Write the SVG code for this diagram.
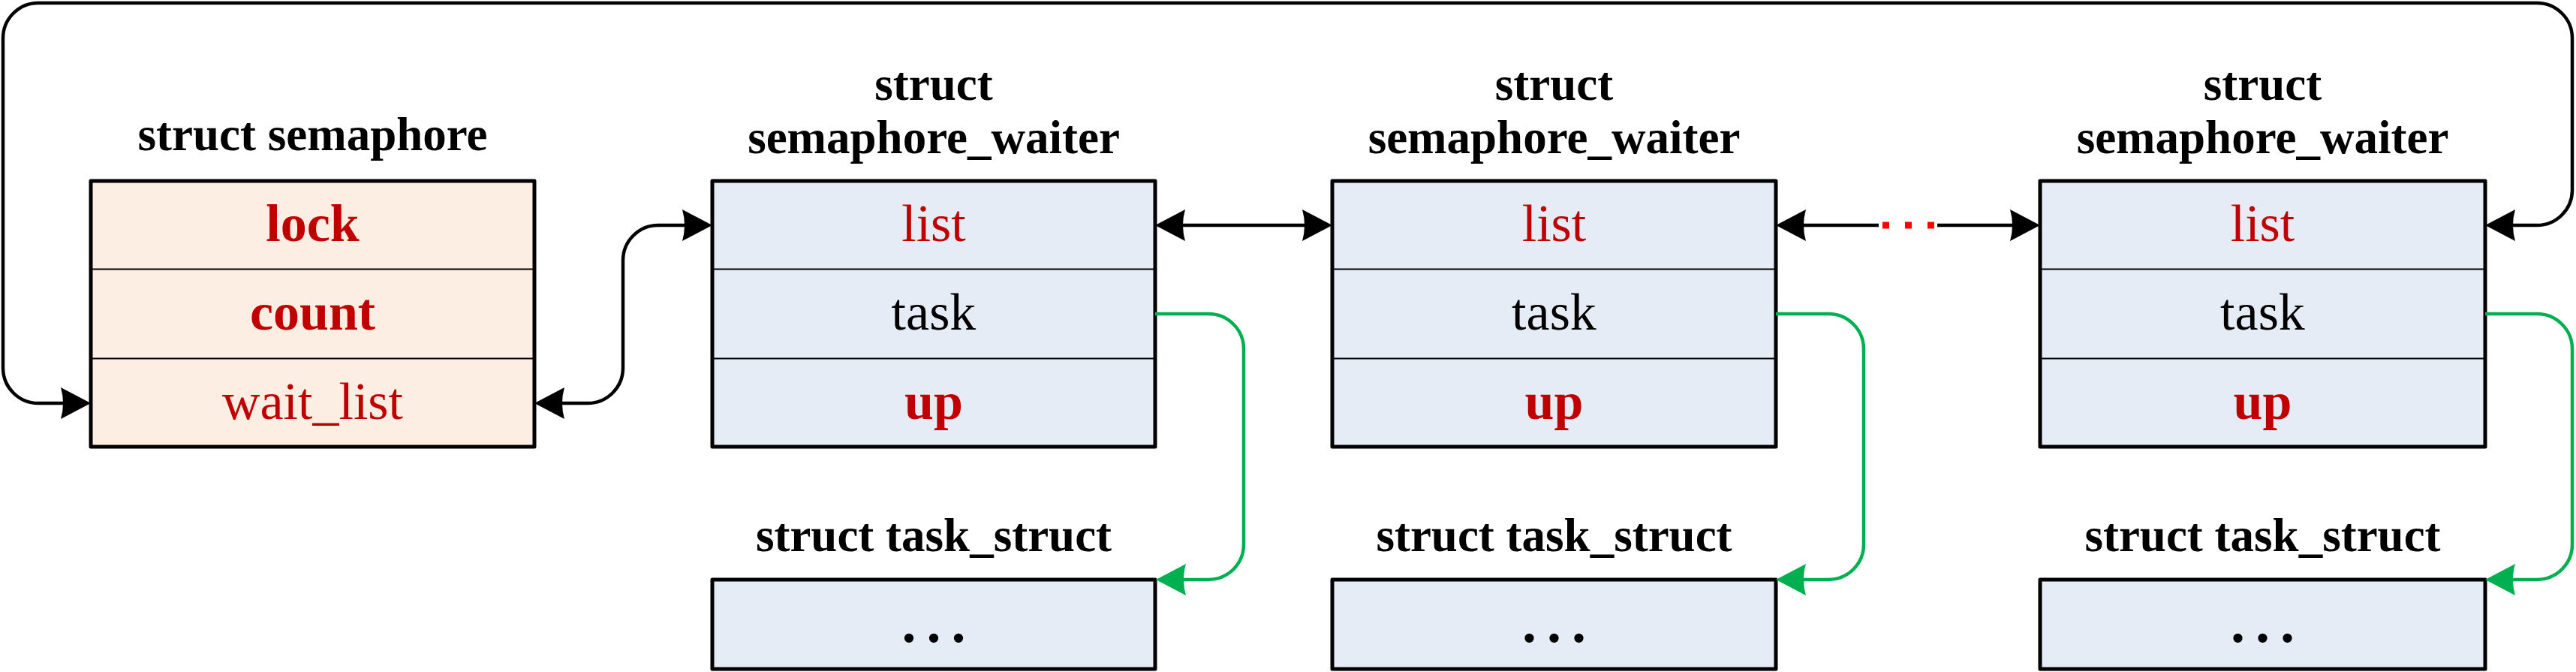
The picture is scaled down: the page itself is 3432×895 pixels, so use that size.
<svg xmlns="http://www.w3.org/2000/svg" width="3432" height="895" viewBox="0 0 3432 895">
  <style>
    .box { stroke: #000; stroke-width: 5; stroke-linejoin: round; }
    .sem { fill: #FDEEE4; }
    .wai { fill: #E6ECF6; }
    .div { stroke: #000; stroke-width: 2; }
    .title { font-family: "Liberation Serif", "Times New Roman", serif; font-weight: bold; font-size: 63px; fill: #000; text-anchor: middle; }
    .fld { font-family: "Liberation Serif", "Times New Roman", serif; font-size: 70px; text-anchor: middle; }
    .red { fill: #C00000; }
    .blk { fill: #000; }
    .b { font-weight: bold; }
    .dots { font-family: "Liberation Serif", "Times New Roman", serif; font-weight: bold; font-size: 76px; fill: #000; text-anchor: middle; letter-spacing: 14px; }
    .conn { fill: none; stroke: #000; stroke-width: 4.5; }
    .green { fill: none; stroke: #00B050; stroke-width: 4.5; }
    .dot { fill: #FF0000; }
  </style>
  <defs>
    <marker id="ab" markerUnits="userSpaceOnUse" markerWidth="60" markerHeight="60" refX="40" refY="30" orient="auto-start-reverse">
      <path d="M50,30 L10,9 Q16,30 10,51 Z" fill="#000"/>
    </marker>
    <marker id="ag" markerUnits="userSpaceOnUse" markerWidth="60" markerHeight="60" refX="40" refY="30" orient="auto-start-reverse">
      <path d="M50,30 L10,9 Q16,30 10,51 Z" fill="#00B050"/>
    </marker>
  </defs>

  <g id="semaphore">
    <text class="title" x="416.5" y="200">struct semaphore</text>
    <rect class="box sem" x="121" y="241" width="591" height="354"/>
    <line class="div" x1="121" y1="358.5" x2="712" y2="358.5"/>
    <line class="div" x1="121" y1="477.5" x2="712" y2="477.5"/>
    <text class="fld red b" x="416.5" y="321">lock</text>
    <text class="fld red b" x="416.5" y="439">count</text>
    <text class="fld red" x="416.5" y="558">wait_list</text>
  </g>

  <g id="waiter1">
    <text class="title" x="1244" y="133">struct</text>
    <text class="title" x="1244" y="204">semaphore_waiter</text>
    <rect class="box wai" x="949" y="241" width="590" height="354"/>
    <line class="div" x1="949" y1="358.5" x2="1539" y2="358.5"/>
    <line class="div" x1="949" y1="477.5" x2="1539" y2="477.5"/>
    <text class="fld red" x="1244" y="321">list</text>
    <text class="fld blk" x="1244" y="439">task</text>
    <text class="fld red b" x="1244" y="558">up</text>
  </g>

  <g id="waiter2">
    <text class="title" x="2070.5" y="133">struct</text>
    <text class="title" x="2070.5" y="204">semaphore_waiter</text>
    <rect class="box wai" x="1775" y="241" width="591" height="354"/>
    <line class="div" x1="1775" y1="358.5" x2="2366" y2="358.5"/>
    <line class="div" x1="1775" y1="477.5" x2="2366" y2="477.5"/>
    <text class="fld red" x="2070.5" y="321">list</text>
    <text class="fld blk" x="2070.5" y="439">task</text>
    <text class="fld red b" x="2070.5" y="558">up</text>
  </g>

  <g id="waiter3">
    <text class="title" x="3014.5" y="133">struct</text>
    <text class="title" x="3014.5" y="204">semaphore_waiter</text>
    <rect class="box wai" x="2718" y="241" width="593" height="354"/>
    <line class="div" x1="2718" y1="358.5" x2="3311" y2="358.5"/>
    <line class="div" x1="2718" y1="477.5" x2="3311" y2="477.5"/>
    <text class="fld red" x="3014.5" y="321">list</text>
    <text class="fld blk" x="3014.5" y="439">task</text>
    <text class="fld red b" x="3014.5" y="558">up</text>
  </g>

  <g id="task1">
    <text class="title" x="1244" y="734">struct task_struct</text>
    <rect class="box wai" x="949" y="772" width="590" height="119"/>
    <text class="dots" x="1251" y="855">...</text>
  </g>

  <g id="task2">
    <text class="title" x="2070.5" y="734">struct task_struct</text>
    <rect class="box wai" x="1775" y="772" width="591" height="119"/>
    <text class="dots" x="2077.5" y="855">...</text>
  </g>

  <g id="task3">
    <text class="title" x="3014.5" y="734">struct task_struct</text>
    <rect class="box wai" x="2718" y="772" width="593" height="119"/>
    <text class="dots" x="3021.5" y="855">...</text>
  </g>

  <g id="connectors">
    <path class="conn" d="M111,537 H51 A47,47 0 0 1 4,490 V51 A47,47 0 0 1 51,4 H3380 A47,47 0 0 1 3427,51 V253 A47,47 0 0 1 3380,300 H3321" marker-start="url(#ab)" marker-end="url(#ab)"/>
    <path class="conn" d="M722,537 H783 A47,47 0 0 0 830,490 V347 A47,47 0 0 1 877,300 H939" marker-start="url(#ab)" marker-end="url(#ab)"/>
    <path class="conn" d="M1549,300 H1765" marker-start="url(#ab)" marker-end="url(#ab)"/>
    <path class="conn" d="M2376,300 H2503" marker-start="url(#ab)"/>
    <rect class="dot" x="2508" y="295.5" width="9" height="9"/>
    <rect class="dot" x="2538" y="295.5" width="9" height="9"/>
    <rect class="dot" x="2568" y="295.5" width="9" height="9"/>
    <path class="conn" d="M2581,300 H2708" marker-end="url(#ab)"/>
    <path class="green" d="M1539,418 H1610 A47,47 0 0 1 1657,465 V725 A47,47 0 0 1 1610,772 H1550" marker-end="url(#ag)"/>
    <path class="green" d="M2366,418 H2436 A47,47 0 0 1 2483,465 V725 A47,47 0 0 1 2436,772 H2376" marker-end="url(#ag)"/>
    <path class="green" d="M3311,418 H3380 A47,47 0 0 1 3427,465 V725 A47,47 0 0 1 3380,772 H3321" marker-end="url(#ag)"/>
  </g>
</svg>
